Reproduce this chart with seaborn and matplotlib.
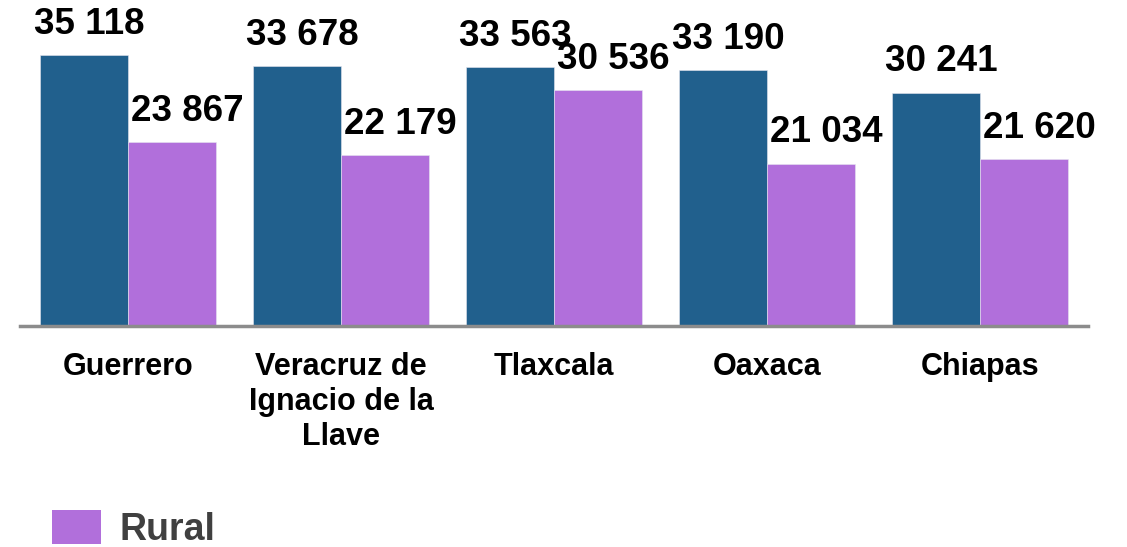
import pandas as pd
import matplotlib
matplotlib.use("Agg")
import matplotlib.pyplot as plt
import seaborn as sns
from matplotlib.patches import Patch

# Data
states = ["Guerrero", "Veracruz de\nIgnacio de la\nLlave", "Tlaxcala", "Oaxaca", "Chiapas"]
urbana = [35118, 33678, 33563, 33190, 30241]
rural = [23867, 22179, 30536, 21034, 21620]
series = ["Urbana", "Rural"]
colors = ["#21608d", "#b16fdb"]

df = pd.DataFrame({
    "Estado": states * 2,
    "Valor": urbana + rural,
    "Zona": ["Urbana"] * len(states) + ["Rural"] * len(states),
})

sns.set_theme(style="white")
plt.rcParams["font.family"] = ["Liberation Sans", "DejaVu Sans"]

W, H = 1127, 547
fig = plt.figure(figsize=(W / 100, H / 100), dpi=100)
ax = fig.add_axes([20 / W, (H - 326) / H, (1088 - 20) / W, 326 / H])

sns.barplot(data=df, x="Estado", y="Valor", hue="Zona", hue_order=series,
            palette=colors, width=0.83, gap=0, saturation=1,
            edgecolor="#e6e6f0", linewidth=0.4, legend=False, ax=ax)

ax.set_xlim(-0.507, 4.507)
ax.set_ylim(0, 42245)
ax.set_xlabel("")
ax.set_ylabel("")
ax.set_yticks([])
for side in ["left", "right", "top"]:
    ax.spines[side].set_visible(False)
ax.spines["bottom"].set_color("#8c8c8c")
ax.spines["bottom"].set_linewidth(2.5)
ax.tick_params(axis="x", length=0, pad=19)
for lbl in ax.get_xticklabels():
    lbl.set_fontsize(22)
    lbl.set_fontweight("bold")
    lbl.set_color("black")
    lbl.set_linespacing(1.2)

# value labels above bars
offsets = [4, 11]
for cont, dx in zip(ax.containers, offsets):
    for bar in cont:
        v = int(round(bar.get_height()))
        ax.annotate(f"{v:,}".replace(",", " "),
                    (bar.get_x() + bar.get_width() / 2, bar.get_height()),
                    xytext=(dx, 9.5), textcoords="offset points",
                    ha="center", va="bottom", fontsize=26.5, fontweight="bold",
                    color="black", annotation_clip=False)

# legend (only the Rural entry is visible in the original)
handles = [Patch(facecolor=colors[1], edgecolor="none")]
leg = fig.legend(handles, ["Rural"], loc="upper left",
                 bbox_to_anchor=(52 / W, 1 - 510 / H), frameon=False,
                 fontsize=27, handlelength=1.3, handleheight=1.0,
                 handletextpad=0.5, borderpad=0, borderaxespad=0)
for t in leg.get_texts():
    t.set_fontweight("bold")
    t.set_color("#404040")

fig.savefig("out.png", dpi=100)
